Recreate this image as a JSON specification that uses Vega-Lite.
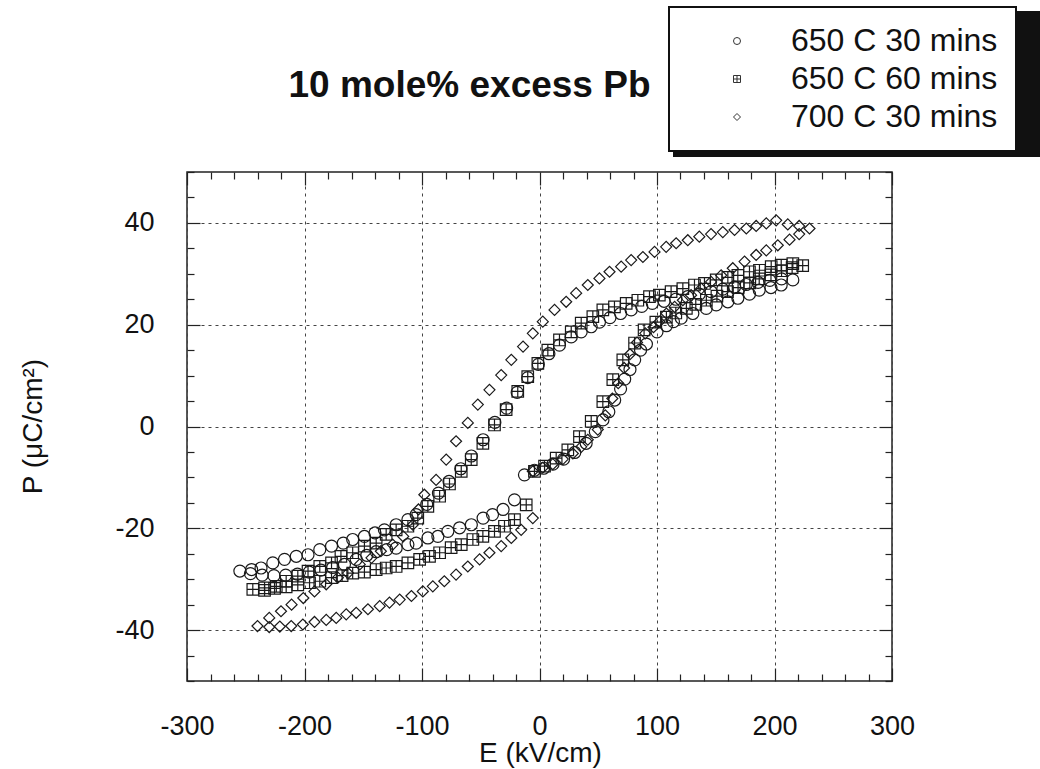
{
  "$schema": "https://vega.github.io/schema/vega-lite/v6.json",
  "width": 705,
  "height": 509,
  "autosize": {"type": "none"},
  "padding": {"left": 187, "top": 172, "right": 148, "bottom": 88},
  "background": "white",
  "config": {
    "font": "Liberation Sans",
    "view": {"stroke": "#222", "strokeWidth": 1.5},
    "legend": {"strokeWidth": 2}
  },
  "datasets": {
    "loops": [
      {"s": "650 C 30 mins", "E": -12.8, "P": -9.5}, {"s": "650 C 30 mins", "E": -4.3, "P": -8.6}, {"s": "650 C 30 mins", "E": 3.5, "P": -8.2}, {"s": "650 C 30 mins", "E": 11.5, "P": -7.4}, {"s": "650 C 30 mins", "E": 20.5, "P": -6.4}, {"s": "650 C 30 mins", "E": 30, "P": -5.1}, {"s": "650 C 30 mins", "E": 39.7, "P": -3.3}, {"s": "650 C 30 mins", "E": 47.5, "P": -1.0}, {"s": "650 C 30 mins", "E": 54, "P": 1.3}, {"s": "650 C 30 mins", "E": 59, "P": 2.9}, {"s": "650 C 30 mins", "E": 64, "P": 5.2}, {"s": "650 C 30 mins", "E": 69, "P": 7.4}, {"s": "650 C 30 mins", "E": 72.5, "P": 9.3}, {"s": "650 C 30 mins", "E": 77, "P": 11.2}, {"s": "650 C 30 mins", "E": 81, "P": 13.1}, {"s": "650 C 30 mins", "E": 86, "P": 15}, {"s": "650 C 30 mins", "E": 91, "P": 16.2}, {"s": "650 C 30 mins", "E": 100, "P": 18.6}, {"s": "650 C 30 mins", "E": 108, "P": 19.8}, {"s": "650 C 30 mins", "E": 114, "P": 20.6}, {"s": "650 C 30 mins", "E": 120.6, "P": 21.3}, {"s": "650 C 30 mins", "E": 130.5, "P": 22.2}, {"s": "650 C 30 mins", "E": 141.9, "P": 23.2}, {"s": "650 C 30 mins", "E": 150.4, "P": 23.9}, {"s": "650 C 30 mins", "E": 160.3, "P": 24.5}, {"s": "650 C 30 mins", "E": 168.8, "P": 25.2}, {"s": "650 C 30 mins", "E": 178.7, "P": 26}, {"s": "650 C 30 mins", "E": 187, "P": 26.8}, {"s": "650 C 30 mins", "E": 197, "P": 27.3}, {"s": "650 C 30 mins", "E": 205.7, "P": 27.8}, {"s": "650 C 30 mins", "E": 215.6, "P": 28.8},
      {"s": "650 C 30 mins", "E": 206, "P": 29.0}, {"s": "650 C 30 mins", "E": 196, "P": 28.7}, {"s": "650 C 30 mins", "E": 186, "P": 28.3}, {"s": "650 C 30 mins", "E": 176, "P": 27.9}, {"s": "650 C 30 mins", "E": 166, "P": 27.4}, {"s": "650 C 30 mins", "E": 156, "P": 27.0}, {"s": "650 C 30 mins", "E": 146, "P": 26.5}, {"s": "650 C 30 mins", "E": 136, "P": 26.0}, {"s": "650 C 30 mins", "E": 126, "P": 25.5}, {"s": "650 C 30 mins", "E": 116, "P": 25.0}, {"s": "650 C 30 mins", "E": 106, "P": 24.6}, {"s": "650 C 30 mins", "E": 96, "P": 24.2}, {"s": "650 C 30 mins", "E": 87, "P": 23.6}, {"s": "650 C 30 mins", "E": 78, "P": 22.9}, {"s": "650 C 30 mins", "E": 69, "P": 22.2}, {"s": "650 C 30 mins", "E": 60, "P": 21.4}, {"s": "650 C 30 mins", "E": 51, "P": 20.5}, {"s": "650 C 30 mins", "E": 44, "P": 19.6}, {"s": "650 C 30 mins", "E": 35.5, "P": 18.6}, {"s": "650 C 30 mins", "E": 27, "P": 17.6}, {"s": "650 C 30 mins", "E": 17, "P": 16.0}, {"s": "650 C 30 mins", "E": 8, "P": 14.3}, {"s": "650 C 30 mins", "E": -1, "P": 12.2}, {"s": "650 C 30 mins", "E": -10, "P": 9.6}, {"s": "650 C 30 mins", "E": -19, "P": 6.7}, {"s": "650 C 30 mins", "E": -28, "P": 3.6}, {"s": "650 C 30 mins", "E": -38, "P": 0.8}, {"s": "650 C 30 mins", "E": -48, "P": -2.6}, {"s": "650 C 30 mins", "E": -58, "P": -5.8}, {"s": "650 C 30 mins", "E": -67, "P": -8.3}, {"s": "650 C 30 mins", "E": -77, "P": -10.8}, {"s": "650 C 30 mins", "E": -86, "P": -13.1}, {"s": "650 C 30 mins", "E": -96, "P": -15.3}, {"s": "650 C 30 mins", "E": -105, "P": -17.3}, {"s": "650 C 30 mins", "E": -112, "P": -18.3}, {"s": "650 C 30 mins", "E": -122, "P": -19.3}, {"s": "650 C 30 mins", "E": -132, "P": -20.3}, {"s": "650 C 30 mins", "E": -140, "P": -20.9}, {"s": "650 C 30 mins", "E": -149, "P": -21.6}, {"s": "650 C 30 mins", "E": -159, "P": -22.2}, {"s": "650 C 30 mins", "E": -167, "P": -22.9}, {"s": "650 C 30 mins", "E": -177, "P": -23.5}, {"s": "650 C 30 mins", "E": -187, "P": -24.2}, {"s": "650 C 30 mins", "E": -197, "P": -25.2}, {"s": "650 C 30 mins", "E": -207, "P": -25.5}, {"s": "650 C 30 mins", "E": -217, "P": -26.1}, {"s": "650 C 30 mins", "E": -227, "P": -26.8}, {"s": "650 C 30 mins", "E": -237, "P": -27.8}, {"s": "650 C 30 mins", "E": -245, "P": -28.1}, {"s": "650 C 30 mins", "E": -255, "P": -28.4},
      {"s": "650 C 30 mins", "E": -246, "P": -28.9}, {"s": "650 C 30 mins", "E": -236, "P": -29.2}, {"s": "650 C 30 mins", "E": -226, "P": -29.3}, {"s": "650 C 30 mins", "E": -216, "P": -29.2}, {"s": "650 C 30 mins", "E": -206, "P": -29.0}, {"s": "650 C 30 mins", "E": -196, "P": -28.6}, {"s": "650 C 30 mins", "E": -186, "P": -28.2}, {"s": "650 C 30 mins", "E": -176, "P": -27.7}, {"s": "650 C 30 mins", "E": -166, "P": -27.1}, {"s": "650 C 30 mins", "E": -156, "P": -26.1}, {"s": "650 C 30 mins", "E": -147, "P": -25.3}, {"s": "650 C 30 mins", "E": -139, "P": -24.6}, {"s": "650 C 30 mins", "E": -130, "P": -24.2}, {"s": "650 C 30 mins", "E": -122, "P": -23.9}, {"s": "650 C 30 mins", "E": -112, "P": -23.2}, {"s": "650 C 30 mins", "E": -105, "P": -22.9}, {"s": "650 C 30 mins", "E": -95, "P": -21.9}, {"s": "650 C 30 mins", "E": -86.5, "P": -21.6}, {"s": "650 C 30 mins", "E": -78, "P": -20.6}, {"s": "650 C 30 mins", "E": -68, "P": -19.9}, {"s": "650 C 30 mins", "E": -58, "P": -19.3}, {"s": "650 C 30 mins", "E": -48, "P": -18}, {"s": "650 C 30 mins", "E": -40, "P": -17.3}, {"s": "650 C 30 mins", "E": -31, "P": -16.3}, {"s": "650 C 30 mins", "E": -21.3, "P": -14.4},
      {"s": "650 C 60 mins", "E": -4.3, "P": -8.8}, {"s": "650 C 60 mins", "E": 4.3, "P": -7.8}, {"s": "650 C 60 mins", "E": 14.2, "P": -6.2}, {"s": "650 C 60 mins", "E": 24.1, "P": -4.6}, {"s": "650 C 60 mins", "E": 34, "P": -2.0}, {"s": "650 C 60 mins", "E": 44, "P": 1.0}, {"s": "650 C 60 mins", "E": 53.9, "P": 4.9}, {"s": "650 C 60 mins", "E": 62.4, "P": 9.2}, {"s": "650 C 60 mins", "E": 70.9, "P": 13.1}, {"s": "650 C 60 mins", "E": 80.9, "P": 16.4}, {"s": "650 C 60 mins", "E": 89, "P": 19}, {"s": "650 C 60 mins", "E": 99, "P": 20.5}, {"s": "650 C 60 mins", "E": 108, "P": 21.5}, {"s": "650 C 60 mins", "E": 116, "P": 22.3}, {"s": "650 C 60 mins", "E": 125, "P": 23.2}, {"s": "650 C 60 mins", "E": 133, "P": 24}, {"s": "650 C 60 mins", "E": 142, "P": 24.8}, {"s": "650 C 60 mins", "E": 151, "P": 25.6}, {"s": "650 C 60 mins", "E": 160, "P": 26.5}, {"s": "650 C 60 mins", "E": 169, "P": 27.3}, {"s": "650 C 60 mins", "E": 179, "P": 28.2}, {"s": "650 C 60 mins", "E": 187, "P": 29}, {"s": "650 C 60 mins", "E": 197, "P": 29.8}, {"s": "650 C 60 mins", "E": 206, "P": 30.6}, {"s": "650 C 60 mins", "E": 215, "P": 31.2}, {"s": "650 C 60 mins", "E": 224, "P": 31.6},
      {"s": "650 C 60 mins", "E": 215.6, "P": 32}, {"s": "650 C 60 mins", "E": 205.7, "P": 31.7}, {"s": "650 C 60 mins", "E": 197.2, "P": 31.4}, {"s": "650 C 60 mins", "E": 187.2, "P": 30.7}, {"s": "650 C 60 mins", "E": 178.7, "P": 30.4}, {"s": "650 C 60 mins", "E": 168.8, "P": 29.7}, {"s": "650 C 60 mins", "E": 160.3, "P": 29.3}, {"s": "650 C 60 mins", "E": 150.4, "P": 28.8}, {"s": "650 C 60 mins", "E": 140.4, "P": 28.1}, {"s": "650 C 60 mins", "E": 131.9, "P": 27.8}, {"s": "650 C 60 mins", "E": 122, "P": 27.1}, {"s": "650 C 60 mins", "E": 112, "P": 26.5}, {"s": "650 C 60 mins", "E": 102, "P": 25.8}, {"s": "650 C 60 mins", "E": 93.6, "P": 25.5}, {"s": "650 C 60 mins", "E": 83.7, "P": 24.8}, {"s": "650 C 60 mins", "E": 73.8, "P": 24.2}, {"s": "650 C 60 mins", "E": 63.8, "P": 23.5}, {"s": "650 C 60 mins", "E": 53.9, "P": 22.9}, {"s": "650 C 60 mins", "E": 45.4, "P": 21.6}, {"s": "650 C 60 mins", "E": 35.5, "P": 20.3}, {"s": "650 C 60 mins", "E": 27, "P": 18.6}, {"s": "650 C 60 mins", "E": 17, "P": 17}, {"s": "650 C 60 mins", "E": 7.1, "P": 15}, {"s": "650 C 60 mins", "E": -1.4, "P": 12.4}, {"s": "650 C 60 mins", "E": -10, "P": 9.8}, {"s": "650 C 60 mins", "E": -18.5, "P": 6.9}, {"s": "650 C 60 mins", "E": -28.4, "P": 3.3}, {"s": "650 C 60 mins", "E": -38.3, "P": 0.3}, {"s": "650 C 60 mins", "E": -48.2, "P": -3.3}, {"s": "650 C 60 mins", "E": -58.1, "P": -6.5}, {"s": "650 C 60 mins", "E": -66.6, "P": -8.8}, {"s": "650 C 60 mins", "E": -76.6, "P": -11.3}, {"s": "650 C 60 mins", "E": -85, "P": -13.7}, {"s": "650 C 60 mins", "E": -95, "P": -15.7}, {"s": "650 C 60 mins", "E": -103.6, "P": -18}, {"s": "650 C 60 mins", "E": -112, "P": -19.6}, {"s": "650 C 60 mins", "E": -122, "P": -20.3}, {"s": "650 C 60 mins", "E": -130.5, "P": -21.2}, {"s": "650 C 60 mins", "E": -139, "P": -22.9}, {"s": "650 C 60 mins", "E": -149, "P": -23.5}, {"s": "650 C 60 mins", "E": -159, "P": -24.8}, {"s": "650 C 60 mins", "E": -169, "P": -25.5}, {"s": "650 C 60 mins", "E": -177, "P": -26.8}, {"s": "650 C 60 mins", "E": -187, "P": -27.5}, {"s": "650 C 60 mins", "E": -197, "P": -28.4}, {"s": "650 C 60 mins", "E": -205.7, "P": -29.4}, {"s": "650 C 60 mins", "E": -215.6, "P": -30.4}, {"s": "650 C 60 mins", "E": -224, "P": -31.4}, {"s": "650 C 60 mins", "E": -234, "P": -31.7}, {"s": "650 C 60 mins", "E": -244, "P": -32},
      {"s": "650 C 60 mins", "E": -234, "P": -32.2}, {"s": "650 C 60 mins", "E": -225.5, "P": -31.8}, {"s": "650 C 60 mins", "E": -215.6, "P": -31.5}, {"s": "650 C 60 mins", "E": -205.7, "P": -31.1}, {"s": "650 C 60 mins", "E": -195.7, "P": -30.7}, {"s": "650 C 60 mins", "E": -187, "P": -30.4}, {"s": "650 C 60 mins", "E": -177, "P": -29.7}, {"s": "650 C 60 mins", "E": -168, "P": -29.3}, {"s": "650 C 60 mins", "E": -159, "P": -28.8}, {"s": "650 C 60 mins", "E": -149, "P": -28.6}, {"s": "650 C 60 mins", "E": -139, "P": -28.1}, {"s": "650 C 60 mins", "E": -130.5, "P": -27.8}, {"s": "650 C 60 mins", "E": -122, "P": -27.5}, {"s": "650 C 60 mins", "E": -112, "P": -26.8}, {"s": "650 C 60 mins", "E": -102, "P": -26.1}, {"s": "650 C 60 mins", "E": -93.6, "P": -25.5}, {"s": "650 C 60 mins", "E": -85, "P": -24.8}, {"s": "650 C 60 mins", "E": -75.2, "P": -23.8}, {"s": "650 C 60 mins", "E": -66.6, "P": -23.2}, {"s": "650 C 60 mins", "E": -56.7, "P": -22.2}, {"s": "650 C 60 mins", "E": -48.2, "P": -21.6}, {"s": "650 C 60 mins", "E": -38.3, "P": -20.6}, {"s": "650 C 60 mins", "E": -29.8, "P": -19.6}, {"s": "650 C 60 mins", "E": -21.3, "P": -18.3}, {"s": "650 C 60 mins", "E": -11.3, "P": -15.4},
      {"s": "700 C 30 mins", "E": -5.7, "P": -8.8}, {"s": "700 C 30 mins", "E": 2.8, "P": -8.1}, {"s": "700 C 30 mins", "E": 11.3, "P": -7.4}, {"s": "700 C 30 mins", "E": 19.8, "P": -6.4}, {"s": "700 C 30 mins", "E": 28.4, "P": -5.3}, {"s": "700 C 30 mins", "E": 35.5, "P": -4.0}, {"s": "700 C 30 mins", "E": 41.1, "P": -2.6}, {"s": "700 C 30 mins", "E": 49.6, "P": -0.6}, {"s": "700 C 30 mins", "E": 56, "P": 2.2}, {"s": "700 C 30 mins", "E": 62, "P": 5.5}, {"s": "700 C 30 mins", "E": 67, "P": 8.5}, {"s": "700 C 30 mins", "E": 72, "P": 11.5}, {"s": "700 C 30 mins", "E": 77, "P": 14.2}, {"s": "700 C 30 mins", "E": 83, "P": 16.5}, {"s": "700 C 30 mins", "E": 90, "P": 18.3}, {"s": "700 C 30 mins", "E": 97, "P": 19.5}, {"s": "700 C 30 mins", "E": 102, "P": 20.6}, {"s": "700 C 30 mins", "E": 108, "P": 22.2}, {"s": "700 C 30 mins", "E": 115, "P": 23.5}, {"s": "700 C 30 mins", "E": 122, "P": 24.8}, {"s": "700 C 30 mins", "E": 129, "P": 25.8}, {"s": "700 C 30 mins", "E": 137.6, "P": 27.1}, {"s": "700 C 30 mins", "E": 146, "P": 28.4}, {"s": "700 C 30 mins", "E": 154.6, "P": 29.7}, {"s": "700 C 30 mins", "E": 164.5, "P": 31.1}, {"s": "700 C 30 mins", "E": 174.5, "P": 32.4}, {"s": "700 C 30 mins", "E": 184.4, "P": 33.7}, {"s": "700 C 30 mins", "E": 193, "P": 34.6}, {"s": "700 C 30 mins", "E": 202.8, "P": 35.6}, {"s": "700 C 30 mins", "E": 212.8, "P": 36.7}, {"s": "700 C 30 mins", "E": 221, "P": 37.8}, {"s": "700 C 30 mins", "E": 229.8, "P": 38.9},
      {"s": "700 C 30 mins", "E": 221, "P": 39.4}, {"s": "700 C 30 mins", "E": 211.3, "P": 39.7}, {"s": "700 C 30 mins", "E": 201.4, "P": 40.5}, {"s": "700 C 30 mins", "E": 193, "P": 39.9}, {"s": "700 C 30 mins", "E": 184.4, "P": 39.4}, {"s": "700 C 30 mins", "E": 176, "P": 38.9}, {"s": "700 C 30 mins", "E": 166, "P": 38.6}, {"s": "700 C 30 mins", "E": 156, "P": 38.2}, {"s": "700 C 30 mins", "E": 146, "P": 37.8}, {"s": "700 C 30 mins", "E": 136, "P": 37.3}, {"s": "700 C 30 mins", "E": 126.2, "P": 36.6}, {"s": "700 C 30 mins", "E": 116.3, "P": 36}, {"s": "700 C 30 mins", "E": 107.8, "P": 35.3}, {"s": "700 C 30 mins", "E": 97.9, "P": 34.3}, {"s": "700 C 30 mins", "E": 88, "P": 33.3}, {"s": "700 C 30 mins", "E": 78, "P": 32.7}, {"s": "700 C 30 mins", "E": 69.5, "P": 31.4}, {"s": "700 C 30 mins", "E": 59.6, "P": 30.4}, {"s": "700 C 30 mins", "E": 51, "P": 29.1}, {"s": "700 C 30 mins", "E": 41.1, "P": 27.8}, {"s": "700 C 30 mins", "E": 31.2, "P": 26.2}, {"s": "700 C 30 mins", "E": 22.7, "P": 24.5}, {"s": "700 C 30 mins", "E": 12.8, "P": 22.9}, {"s": "700 C 30 mins", "E": 2.8, "P": 20.6}, {"s": "700 C 30 mins", "E": -5.7, "P": 18.3}, {"s": "700 C 30 mins", "E": -14, "P": 15.7}, {"s": "700 C 30 mins", "E": -24, "P": 13.1}, {"s": "700 C 30 mins", "E": -32.6, "P": 10.1}, {"s": "700 C 30 mins", "E": -42.6, "P": 7.2}, {"s": "700 C 30 mins", "E": -52.5, "P": 4.3}, {"s": "700 C 30 mins", "E": -61, "P": 0.7}, {"s": "700 C 30 mins", "E": -71, "P": -2.9}, {"s": "700 C 30 mins", "E": -79.4, "P": -6.5}, {"s": "700 C 30 mins", "E": -88, "P": -10.5}, {"s": "700 C 30 mins", "E": -98, "P": -13.4}, {"s": "700 C 30 mins", "E": -103, "P": -16.3}, {"s": "700 C 30 mins", "E": -107.8, "P": -19.3}, {"s": "700 C 30 mins", "E": -116, "P": -21.6}, {"s": "700 C 30 mins", "E": -125, "P": -23.2}, {"s": "700 C 30 mins", "E": -135, "P": -24.5}, {"s": "700 C 30 mins", "E": -143, "P": -25.8}, {"s": "700 C 30 mins", "E": -153, "P": -27.1}, {"s": "700 C 30 mins", "E": -163, "P": -28.8}, {"s": "700 C 30 mins", "E": -171.6, "P": -29.7}, {"s": "700 C 30 mins", "E": -181.5, "P": -31}, {"s": "700 C 30 mins", "E": -191.5, "P": -32.4}, {"s": "700 C 30 mins", "E": -201, "P": -33.7}, {"s": "700 C 30 mins", "E": -211, "P": -35}, {"s": "700 C 30 mins", "E": -220, "P": -36.3}, {"s": "700 C 30 mins", "E": -230, "P": -37.6}, {"s": "700 C 30 mins", "E": -240, "P": -39.2},
      {"s": "700 C 30 mins", "E": -230, "P": -39.4}, {"s": "700 C 30 mins", "E": -221, "P": -39.3}, {"s": "700 C 30 mins", "E": -211.3, "P": -39.2}, {"s": "700 C 30 mins", "E": -201.4, "P": -38.9}, {"s": "700 C 30 mins", "E": -191.5, "P": -38.4}, {"s": "700 C 30 mins", "E": -181.5, "P": -38.0}, {"s": "700 C 30 mins", "E": -173, "P": -37.6}, {"s": "700 C 30 mins", "E": -164.5, "P": -36.9}, {"s": "700 C 30 mins", "E": -156, "P": -36.6}, {"s": "700 C 30 mins", "E": -146, "P": -35.9}, {"s": "700 C 30 mins", "E": -136, "P": -35.3}, {"s": "700 C 30 mins", "E": -127.7, "P": -34.6}, {"s": "700 C 30 mins", "E": -119, "P": -34}, {"s": "700 C 30 mins", "E": -109, "P": -33.3}, {"s": "700 C 30 mins", "E": -99.3, "P": -32.4}, {"s": "700 C 30 mins", "E": -90.8, "P": -31.4}, {"s": "700 C 30 mins", "E": -81, "P": -30.4}, {"s": "700 C 30 mins", "E": -71, "P": -29.1}, {"s": "700 C 30 mins", "E": -61, "P": -27.5}, {"s": "700 C 30 mins", "E": -51, "P": -26.1}, {"s": "700 C 30 mins", "E": -42.6, "P": -24.8}, {"s": "700 C 30 mins", "E": -32.6, "P": -23.5}, {"s": "700 C 30 mins", "E": -24, "P": -21.9}, {"s": "700 C 30 mins", "E": -15.6, "P": -20.3}, {"s": "700 C 30 mins", "E": -5.7, "P": -18}
    ]
  },
  "data": {"name": "loops"},
  "layer": [
    {
      "mark": {"type": "point", "filled": false, "strokeWidth": 1.2, "opacity": 1},
      "encoding": {
        "x": {
          "field": "E", "type": "quantitative",
          "scale": {"domain": [-300, 300], "nice": false, "zero": false},
          "axis": {
            "orient": "bottom",
            "values": [-300, -280, -260, -240, -220, -200, -180, -160, -140, -120, -100, -80, -60, -40, -20, 0, 20, 40, 60, 80, 100, 120, 140, 160, 180, 200, 220, 240, 260, 280, 300],
            "labelExpr": "datum.value % 100 === 0 ? '' + datum.value : ''",
            "labelFont": "Liberation Sans", "labelFontSize": 27, "labelColor": "#111", "labelPadding": 45, "labelFlush": false, "labelOverlap": false,
            "domain": false,
            "tickColor": "#222", "tickWidth": 1.2,
            "tickSize": {"condition": {"test": "datum.value % 100 === 0", "value": -13}, "value": -7},
            "grid": true, "gridColor": "#444", "gridDash": [3, 4], "gridWidth": 1,
            "gridOpacity": {"condition": {"test": "datum.value % 100 === 0", "value": 1}, "value": 0},
            "title": "E (kV/cm)", "titleFont": "Liberation Sans", "titleFontSize": 28, "titleFontWeight": "normal", "titleColor": "#111",
            "titleX": 353, "titleY": 72, "titleBaseline": "middle", "titleAlign": "center"
          }
        },
        "y": {
          "field": "P", "type": "quantitative",
          "scale": {"domain": [-50, 50], "nice": false, "zero": false},
          "axis": {
            "orient": "left",
            "values": [-50, -45, -40, -35, -30, -25, -20, -15, -10, -5, 0, 5, 10, 15, 20, 25, 30, 35, 40, 45, 50],
            "labelExpr": "datum.value % 20 === 0 ? '' + datum.value : ''",
            "labelFont": "Liberation Sans", "labelFontSize": 27, "labelColor": "#111", "labelPadding": 46, "labelFlush": false, "labelOverlap": false,
            "domain": false,
            "tickColor": "#222", "tickWidth": 1.2,
            "tickSize": {"condition": {"test": "datum.value % 20 === 0", "value": -13}, "value": -7},
            "grid": true, "gridColor": "#444", "gridDash": [3, 4], "gridWidth": 1,
            "gridOpacity": {"condition": {"test": "datum.value % 20 === 0", "value": 1}, "value": 0},
            "title": "P (μC/cm²)", "titleFont": "Liberation Sans", "titleFontSize": 28, "titleFontWeight": "normal", "titleColor": "#111",
            "titleX": -154, "titleY": 254, "titleBaseline": "middle", "titleAlign": "center", "titleAngle": -90
          }
        },
        "shape": {
          "field": "s", "type": "nominal",
          "scale": {"domain": ["650 C 30 mins", "650 C 60 mins", "700 C 30 mins"], "range": ["circle", "M-1,-1H1V1H-1Z M0,-1V1 M-1,0H1", "diamond"]},
          "legend": {
            "orient": "none", "legendX": 482, "legendY": -165, "title": null, "zindex": 3,
            "fillColor": "white", "strokeColor": "#111", "padding": 18, "cornerRadius": 0,
            "labelFont": "Liberation Sans", "labelFontSize": 32, "labelColor": "#111", "labelLimit": 500,
            "labelExpr": "datum.label + '      '",
            "symbolSize": 49, "symbolStrokeWidth": 1, "symbolStrokeColor": "#333", "symbolFillColor": "transparent",
            "symbolOffset": 34, "labelOffset": 38, "rowPadding": 6
          }
        },
        "color": {
          "field": "s", "type": "nominal", "sort": "descending",
          "scale": {"range": ["#1a1a1a", "#1a1a1a", "#1a1a1a"]},
          "legend": {
            "orient": "none", "legendX": 487, "legendY": -160, "title": null, "zindex": 1,
            "fillColor": "#111", "strokeColor": "#111", "padding": 18, "cornerRadius": 0,
            "labelFont": "Liberation Sans", "labelFontSize": 32, "labelColor": "#111", "labelLimit": 500,
            "labelExpr": "'\u00a0'",
            "symbolSize": 49, "symbolStrokeWidth": 1, "symbolStrokeColor": "#111", "symbolOpacity": 0,
            "symbolOffset": 34, "labelOffset": 289, "rowPadding": 6
          }
        },
        "size": {
          "field": "s", "type": "nominal",
          "scale": {"range": [144, 121, 100]},
          "legend": null
        }
      }
    },
    {
      "mark": {"type": "point", "opacity": 0},
      "encoding": {
        "x": {
          "field": "E", "type": "quantitative",
          "axis": {
            "orient": "top",
            "values": [-300, -280, -260, -240, -220, -200, -180, -160, -140, -120, -100, -80, -60, -40, -20, 0, 20, 40, 60, 80, 100, 120, 140, 160, 180, 200, 220, 240, 260, 280, 300],
            "labels": false, "domain": false, "grid": false,
            "tickColor": "#222", "tickWidth": 1.2,
            "tickSize": {"condition": {"test": "datum.value % 100 === 0", "value": -13}, "value": -7},
            "title": "10 mole% excess Pb", "titleFont": "Liberation Sans", "titleFontSize": 37, "titleFontWeight": "bold", "titleColor": "#111",
            "titleX": 282, "titleY": -87, "titleBaseline": "middle", "titleAlign": "center"
          }
        },
        "y": {
          "field": "P", "type": "quantitative",
          "axis": {
            "orient": "right",
            "values": [-50, -45, -40, -35, -30, -25, -20, -15, -10, -5, 0, 5, 10, 15, 20, 25, 30, 35, 40, 45, 50],
            "labels": false, "domain": false, "grid": false, "title": null,
            "tickColor": "#222", "tickWidth": 1.2,
            "tickSize": {"condition": {"test": "datum.value % 20 === 0", "value": -13}, "value": -7}
          }
        }
      }
    }
  ],
  "resolve": {"axis": {"x": "independent", "y": "independent"}}
}
